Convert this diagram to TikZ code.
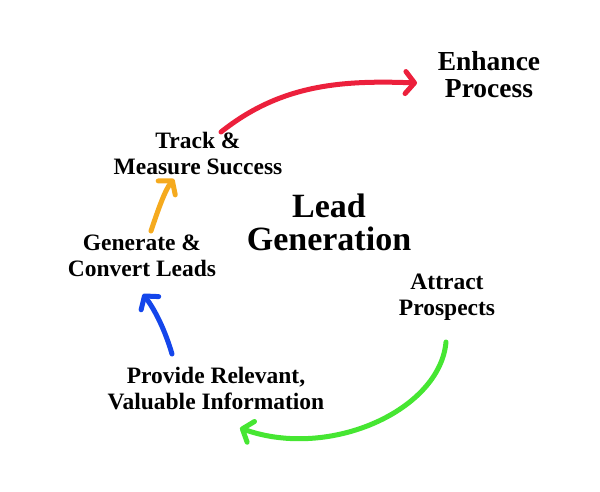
\documentclass[tikz,border=0pt]{standalone}
\usepackage{fontspec}
\setmainfont{Liberation Serif}
\usetikzlibrary{arrows.meta}
\definecolor{cred}{RGB}{236,32,60}
\definecolor{cgreen}{RGB}{70,230,50}
\definecolor{corange}{RGB}{245,170,30}
\definecolor{cblue}{RGB}{20,70,235}
\tikzset{
  lbl/.style={font=\bfseries\fontsize{23.5}{26}\selectfont, align=center, inner sep=0pt},
  arr/.style={line width=5pt, line cap=round, -{Straight Barb[length=9pt,width=22pt,line width=5pt,round]}},
}
\begin{document}
\begin{tikzpicture}[x=1pt,y=-1pt]
\useasboundingbox (0,0) rectangle (600,492);
\node[lbl, font=\bfseries\fontsize{27.5}{27}\selectfont] (enh) at (489,75) {Enhance\\Process};
\node[lbl] (track) at (198,153) {Track \&\\Measure Success};
\node[lbl, font=\bfseries\fontsize{34}{33}\selectfont] (lead) at (329,222) {Lead\\Generation};
\node[lbl] (gen) at (142,256) {Generate \&\\Convert Leads};
\node[lbl] (attr) at (447,297) {Attract\\Prospects};
\node[lbl] (prov) at (216,389) {Provide Relevant,\\Valuable Information};
\coordinate (r1) at (221,132);
\coordinate (r2) at (417,83);
\coordinate (g1) at (446,342);
\coordinate (g2) at (240,428);
\coordinate (o1) at (151,231);
\coordinate (o2) at (174,179);
\coordinate (b1) at (172,354);
\coordinate (b2) at (143,294);
\draw[arr, cred] (r1) .. controls (280,85) and (340,80) .. (r2);
\draw[arr, cgreen] (g1) .. controls (440,410) and (330,460) .. (g2);
\draw[arr, corange] (o1) .. controls (158,210) and (165,190) .. (o2);
\draw[arr, cblue] (b1) .. controls (165,330) and (155,310) .. (b2);
\end{tikzpicture}
\end{document}
